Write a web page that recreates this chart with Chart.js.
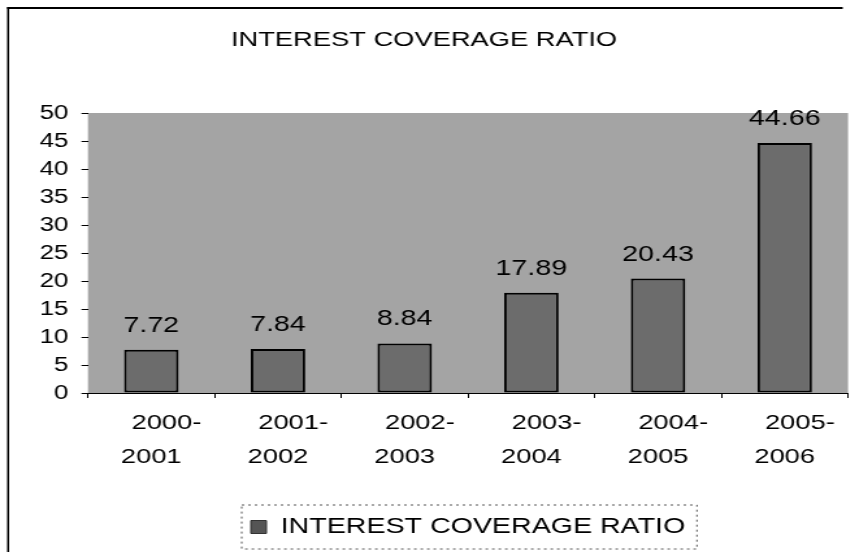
<!DOCTYPE html>
<html lang="en">
<head>
    <meta charset="UTF-8"/>
    <title>Interest Coverage Ratio</title>
    <script src="https://cdn.jsdelivr.net/npm/chart.js"></script>
    <style>
        html, body {
            margin: 0;
            padding: 0;
            background-color: #fff;
            overflow: hidden;
        }

        /* the chart is laid out narrower and stretched sideways, giving the wide lettering */
        .chart-wrap {
            position: absolute;
            left: 0;
            top: 0;
            width: 661px;
            height: 552px;
            transform: scaleX(1.2995);
            transform-origin: 0 0;
        }
    </style>
</head>
<body>
<div class="chart-wrap">
    <canvas id="coverageChart"></canvas>
</div>

<script>
    const periods = ['2000-2001', '2001-2002', '2002-2003', '2003-2004', '2004-2005', '2005-2006'];
    const coverageRatio = [7.72, 7.84, 8.84, 17.89, 20.43, 44.66];
    const yTicks = [0, 5, 10, 15, 20, 25, 30, 35, 40, 45, 50];

    const seriesName = 'INTEREST COVERAGE RATIO';
    const fontFamily = "'Liberation Sans', Arial, sans-serif";

    // grey plot area behind the bars
    const plotBackground = {
        id: 'plotBackground',
        beforeDraw(chart) {
            const {ctx, chartArea} = chart;
            ctx.save();
            ctx.fillStyle = '#a4a4a4';
            ctx.fillRect(chartArea.left, chartArea.top, chartArea.right - chartArea.left, chartArea.bottom - chartArea.top);
            // outer frame, left and top edges
            ctx.fillStyle = '#000';
            ctx.fillRect(5.5, 7, 1.5, chart.height);
            ctx.fillRect(5.5, 7, 643, 2);
            ctx.restore();
        }
    };

    // value printed above each bar
    const barValues = {
        id: 'barValues',
        afterDatasetsDraw(chart) {
            const {ctx} = chart;
            const meta = chart.getDatasetMeta(0);
            ctx.save();
            ctx.font = '22px ' + fontFamily;
            ctx.fillStyle = '#000';
            ctx.textAlign = 'center';
            ctx.textBaseline = 'alphabetic';
            meta.data.forEach((bar, i) => {
                ctx.fillText(coverageRatio[i].toFixed(2), bar.x, bar.y - 18);
            });
            ctx.restore();
        }
    };

    // dotted frame around the legend entry
    const legendFrame = {
        id: 'legendFrame',
        afterDraw(chart) {
            const box = chart.legend.legendHitBoxes[0];
            if (!box) return;
            const {ctx} = chart;
            ctx.save();
            ctx.strokeStyle = '#555';
            ctx.lineWidth = 1;
            ctx.setLineDash([2, 3]);
            ctx.strokeRect(box.left - 7, box.top - 11, box.width + 16, box.height + 22);
            ctx.restore();
        }
    };

    const chart = new Chart(document.getElementById('coverageChart'), {
        type: 'bar',
        data: {
            labels: periods,
            datasets: [{
                label: seriesName,
                data: coverageRatio,
                backgroundColor: '#6c6c6c',
                borderColor: '#000',
                borderWidth: 2,
                borderSkipped: false,
                barPercentage: 0.43,
                categoryPercentage: 1
            }]
        },
        options: {
            responsive: true,
            maintainAspectRatio: false,
            animation: false,
            layout: {
                padding: {left: 0, right: 8.4, top: 0, bottom: 4}
            },
            scales: {
                x: {
                    afterFit(scale) { scale.height = 113; },
                    grid: {
                        offset: true,
                        drawOnChartArea: false,
                        drawTicks: true,
                        tickLength: 5,
                        color: '#000'
                    },
                    border: {display: true, color: '#000', width: 1},
                    ticks: {
                        color: '#000',
                        padding: 8,
                        maxRotation: 0,
                        autoSkip: false,
                        font: {family: fontFamily, size: 21, lineHeight: 1.62},
                        callback: function(value, index) {
                            const parts = periods[index].split('-');
                            return ['    ' + parts[0] + '-', parts[1]];
                        }
                    }
                },
                y: {
                    min: 0,
                    max: 50,
                    afterFit(scale) { scale.width = 67.7; },
                    afterBuildTicks(scale) {
                        scale.ticks = yTicks.map(v => ({value: v}));
                    },
                    grid: {
                        drawOnChartArea: false,
                        drawTicks: true,
                        tickLength: 5,
                        color: '#000'
                    },
                    border: {display: false},
                    ticks: {
                        color: '#000',
                        padding: 10,
                        font: {family: fontFamily, size: 20}
                    }
                }
            },
            plugins: {
                title: {
                    display: true,
                    text: seriesName,
                    color: '#000',
                    font: {family: fontFamily, size: 21, weight: 'normal', lineHeight: 1.2},
                    padding: {top: 28, bottom: 59.8}
                },
                legend: {
                    display: true,
                    position: 'bottom',
                    fullSize: false,
                    labels: {
                        color: '#000',
                        boxWidth: 12,
                        boxHeight: 13,
                        padding: 10,
                        font: {family: fontFamily, size: 22},
                        generateLabels(chart) {
                            const items = Chart.defaults.plugins.legend.labels.generateLabels(chart);
                            items.forEach(item => {
                                item.fillStyle = '#555';
                                item.strokeStyle = '#333';
                                item.lineWidth = 1;
                            });
                            return items;
                        }
                    }
                },
                tooltip: {enabled: false}
            }
        },
        plugins: [plotBackground, barValues, legendFrame]
    });
</script>
</body>
</html>
